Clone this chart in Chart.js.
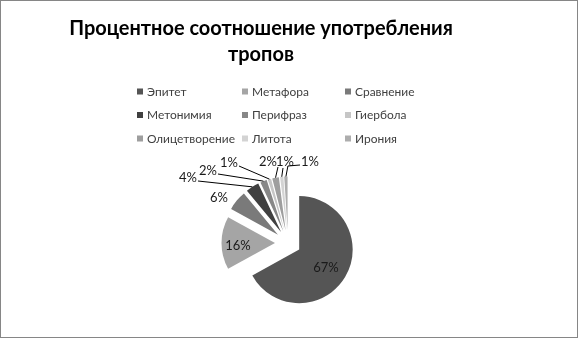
<!DOCTYPE html>
<html><head><meta charset="utf-8">
<script src="https://cdn.jsdelivr.net/npm/chart.js@4/dist/chart.umd.min.js"></script>
<style>html,body{margin:0;padding:0;background:#fff}canvas{display:block}</style>
</head><body>
<canvas id="c" width="578" height="338"></canvas>
<script>
// ---- data ----
const categories = ['Эпитет','Метафора','Сравнение','Метонимия','Перифраз','Гиербола','Олицетворение','Литота','Ирония'];
const values = [67, 16, 6, 4, 2, 1, 2, 1, 1];
const titleLines = ['Процентное соотношение употребления', 'тропов'];

// ---- style ----
const sliceColors = ['#555555','#a5a5a5','#7a7a7a','#404040','#878787','#c6c6c6','#9e9e9e','#d3d3d3','#adadad'];
const FONT = 'Lato, "Open Sans", "DejaVu Sans", sans-serif';
const explode = 13;          // px each slice is pulled out along its bisector
// label placement relative to pie centre (px), and which side the leader leaves from
const labelPlace = [
  {dx: 38, dy: 25},
  {dx: -50, dy: 3},
  {dx: -69, dy: -45},
  {dx: -100, dy: -65, side: 'right'},
  {dx: -80, dy: -72, side: 'right'},
  {dx: -59, dy: -80, side: 'right'},
  {dx: -20, dy: -81, side: 'bottomRight'},
  {dx: -3, dy: -81, side: 'bottom'},
  {dx: 22, dy: -81, side: 'left'}
];

const total = values.reduce((a, b) => a + b, 0);

const framePlugin = {
  id: 'frame',
  beforeDraw(chart) {
    const ctx = chart.ctx;
    ctx.save();
    ctx.fillStyle = '#fff';
    ctx.fillRect(0, 0, chart.width, chart.height);
    ctx.restore();
  },
  afterDraw(chart) {
    const ctx = chart.ctx;
    ctx.save();
    ctx.strokeStyle = '#868686';
    ctx.lineWidth = 1;
    ctx.strokeRect(0.5, 0.5, chart.width - 1, chart.height - 1);
    ctx.restore();
  }
};

const titlePlugin = {
  id: 'customTitle',
  afterDraw(chart) {
    const ctx = chart.ctx;
    ctx.save();
    ctx.font = 'bold 20px ' + FONT;
    const w = ctx.measureText(titleLines[0]).width;
    const size = 20 * 384 / w;
    ctx.font = 'bold ' + size.toFixed(2) + 'px ' + FONT;
    ctx.fillStyle = '#000';
    ctx.textAlign = 'center';
    ctx.textBaseline = 'alphabetic';
    ctx.fillText(titleLines[0], 261, 35);
    ctx.fillText(titleLines[1], 261, 61);
    ctx.restore();
  }
};

const legendPlugin = {
  id: 'gridLegend',
  afterDraw(chart) {
    const ctx = chart.ctx;
    const colX = [137, 242, 345];
    const rowY = [91.5, 115, 138.5];
    ctx.save();
    ctx.font = '12px ' + FONT;
    const w = ctx.measureText('Олицетворение').width;
    const size = 12 * 88 / w;
    ctx.font = size.toFixed(2) + 'px ' + FONT;
    ctx.textBaseline = 'middle';
    ctx.textAlign = 'left';
    categories.forEach((name, i) => {
      const x = colX[i % 3], y = rowY[Math.floor(i / 3)];
      ctx.fillStyle = sliceColors[i];
      ctx.fillRect(x, y - 3, 6, 6);
      ctx.fillStyle = '#404040';
      ctx.fillText(name, x + 10, y + 0.5);
    });
    ctx.restore();
  }
};

const explodePlugin = {
  id: 'explode',
  beforeDatasetDraw(chart, args) {
    const ctx = chart.ctx;
    const meta = args.meta;
    meta.data.forEach(arc => {
      const mid = (arc.startAngle + arc.endAngle) / 2;
      ctx.save();
      ctx.translate(Math.cos(mid) * explode, Math.sin(mid) * explode);
      arc.draw(ctx);
      ctx.restore();
    });
    return false;
  },
  afterDatasetsDraw(chart) {
    const ctx = chart.ctx;
    const meta = chart.getDatasetMeta(0);
    ctx.save();
    ctx.font = '13px ' + FONT;
    ctx.fillStyle = '#1a1a1a';
    ctx.textAlign = 'center';
    ctx.textBaseline = 'middle';
    ctx.strokeStyle = '#000';
    ctx.lineWidth = 1;
    meta.data.forEach((arc, i) => {
      const p = labelPlace[i];
      const txt = Math.round(values[i] / total * 100) + '%';
      const lx = arc.x + p.dx, ly = arc.y + p.dy;
      ctx.fillText(txt, lx, ly);
      if (p.side) {
        const mid = (arc.startAngle + arc.endAngle) / 2;
        const r = arc.outerRadius + explode;
        const ax = arc.x + Math.cos(mid) * r, ay = arc.y + Math.sin(mid) * r;
        const tw = ctx.measureText(txt).width;
        let sx, sy;
        if (p.side === 'right') { sx = lx + tw / 2 + 1; sy = ly + 3; }
        else if (p.side === 'left') { sx = lx - tw / 2 - 1; sy = ly + 3; }
        else if (p.side === 'bottomRight') { sx = lx + tw / 2 + 1; sy = ly + 5; }
        else { sx = lx - 2; sy = ly + 6; }
        ctx.beginPath();
        ctx.moveTo(sx, sy);
        if (p.side === 'left') ctx.lineTo(ax + 2, sy + 1);
        ctx.lineTo(ax, ay);
        ctx.stroke();
      }
    });
    ctx.restore();
  }
};

new Chart(document.getElementById('c'), {
  type: 'pie',
  data: {
    labels: categories,
    datasets: [{
      data: values,
      backgroundColor: sliceColors,
      borderWidth: 0,
      radius: 53.5
    }]
  },
  options: {
    responsive: false,
    animation: false,
    devicePixelRatio: 1,
    layout: { padding: { top: 148, left: 0, right: 2, bottom: 0 } },
    plugins: { legend: { display: false }, tooltip: { enabled: false }, title: { display: false } },
    events: []
  },
  plugins: [framePlugin, explodePlugin, legendPlugin, titlePlugin]
});
</script>
</body></html>
